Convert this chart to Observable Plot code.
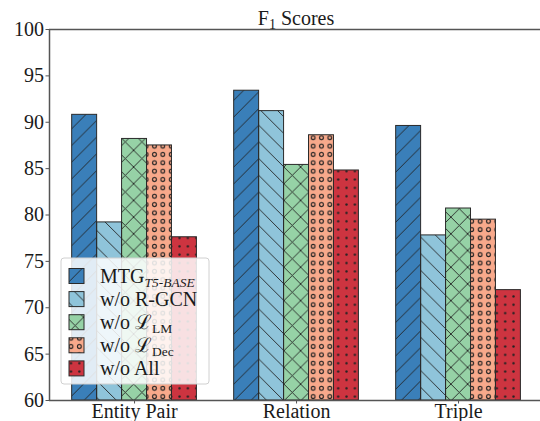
<!DOCTYPE html>
<html><head><meta charset="utf-8">
<script src="https://cdn.jsdelivr.net/npm/d3@7"></script>
<script src="https://cdn.jsdelivr.net/npm/@observablehq/plot@0.6"></script>
<style>body{margin:0;background:#fff}#chart{width:540px;height:421px;overflow:hidden}</style>
</head><body><div id="chart"></div>
<script>
const groups = ["Entity Pair", "Relation", "Triple"];
const seriesLabels = [["MTG", "T5-BASE", true], ["w/o R-GCN"], ["w/o \u2112", "LM"], ["w/o \u2112", "Dec"], ["w/o All"]];
const mtg    = [90.8, 93.4, 89.6];
const noRGCN = [79.2, 91.2, 77.8];
const noLM   = [88.2, 85.4, 80.7];
const noDec  = [87.5, 88.6, 79.5];
const noAll  = [77.6, 84.8, 71.9];
const yTicks = [60, 65, 70, 75, 80, 85, 90, 95, 100];
const seriesValues = [mtg, noRGCN, noLM, noDec, noAll];
const colors = ["#3a7fb9", "#8fc4da", "#96d2a6", "#f8a98b", "#cd3440"];
const patternIds = ["hatch-fwd", "hatch-back", "hatch-cross", "hatch-ring", "hatch-dot"];
const FONT = "'Liberation Serif', 'Times New Roman', serif";

const groupWidth = 0.77, barW = groupWidth / 5;
const rows = [];
seriesValues.forEach((vals, k) => vals.forEach((v, i) => {
  const x1 = i - groupWidth / 2 + k * barW;
  rows.push({group: groups[i], k, value: v, x1, x2: x1 + barW, color: colors[k], pat: `url(#${patternIds[k]})`});
}));

const plot = Plot.plot({
  width: 540, height: 421,
  marginLeft: 49, marginRight: 0, marginTop: 29, marginBottom: 21,
  style: {fontFamily: FONT, fontSize: "20px", color: "#555", background: "#fff", overflow: "visible"},
  x: {type: "linear", domain: [-0.525, 2.506], ticks: [0, 1, 2], tickFormat: i => groups[i], tickSize: 3.5, tickPadding: 0, label: null},
  y: {domain: [60, 100], ticks: yTicks, tickSize: 3.5, tickPadding: 2, label: null},
  color: {type: "identity"},
  marks: [
    Plot.rect(rows, {x1: "x1", x2: "x2", y1: 60, y2: "value", fill: "color"}),
    Plot.rect(rows, {x1: "x1", x2: "x2", y1: 60, y2: "value", fill: "pat", stroke: "#2a2a2a", strokeWidth: 1}),
    Plot.ruleX([-0.525], {stroke: "#555", strokeWidth: 1.5}),
    Plot.ruleY([60, 100], {stroke: "#555", strokeWidth: 1.5})
  ]
});

const svg = d3.select(plot);
svg.selectAll("text").style("fill", "#1a1a1a").style("font-family", FONT).style("font-size", "20px");
const defs = svg.insert("defs", ":first-child");
const hatchStroke = "#222", hw = 0.9, S = 16.7;
function pat(id, w) { return defs.append("pattern").attr("id", id).attr("patternUnits", "userSpaceOnUse").attr("width", w).attr("height", w); }
const fwd = `M-3,3L3,-3M0,${S}L${S},0M${S-3},${S+3}L${S+3},${S-3}`;
const back = `M-3,${S-3}L3,${S+3}M0,0L${S},${S}M${S-3},-3L${S+3},3`;
pat("hatch-fwd", S).append("path").attr("d", fwd).attr("stroke", hatchStroke).attr("stroke-width", hw).attr("fill", "none");
pat("hatch-back", S).append("path").attr("d", back).attr("stroke", hatchStroke).attr("stroke-width", hw).attr("fill", "none");
pat("hatch-cross", S).append("path").attr("d", fwd + back).attr("stroke", hatchStroke).attr("stroke-width", hw).attr("fill", "none");
const R = 8.35;
pat("hatch-ring", R).append("circle").attr("cx", R/2).attr("cy", R/2).attr("r", 1.9).attr("fill", "none").attr("stroke", hatchStroke).attr("stroke-width", 1.1);
pat("hatch-dot", R).append("circle").attr("cx", R/2).attr("cy", R/2).attr("r", 1.2).attr("fill", hatchStroke);

// title
const title = svg.append("text").attr("x", 296).attr("y", 25).attr("text-anchor", "middle")
  .style("font-family", FONT).style("font-size", "20px").style("fill", "#1a1a1a");
title.append("tspan").text("F");
title.append("tspan").attr("dy", 4).style("font-size", "14px").text("1");
title.append("tspan").attr("dy", -4).text(" Scores");

// legend
const lg = svg.append("g");
lg.append("rect").attr("x", 61).attr("y", 258).attr("width", 148).attr("height", 126).attr("rx", 3)
  .attr("fill", "white").attr("fill-opacity", 0.85).attr("stroke", "#d0d0d0");
seriesLabels.forEach((lab, k) => {
  const cy = 276 + k * 23.1;
  lg.append("rect").attr("x", 69).attr("y", cy - 7.5).attr("width", 15).attr("height", 15).attr("fill", colors[k]);
  lg.append("rect").attr("x", 69).attr("y", cy - 7.5).attr("width", 15).attr("height", 15)
    .attr("fill", `url(#${patternIds[k]})`).attr("stroke", "#2a2a2a").attr("stroke-width", 1);
  const t = lg.append("text").attr("x", 100).attr("y", cy + 7).attr("text-anchor", "start")
    .style("font-family", FONT).style("font-size", "20px").style("fill", "#1a1a1a");
  t.append("tspan").text(lab[0]);
  if (lab[1]) {
    const s = t.append("tspan").attr("dy", 4).style("font-size", "13.5px").text(lab[1]);
    if (lab[2]) s.style("font-style", "italic");
  }
});

document.getElementById("chart").appendChild(plot);
</script>
</body></html>
